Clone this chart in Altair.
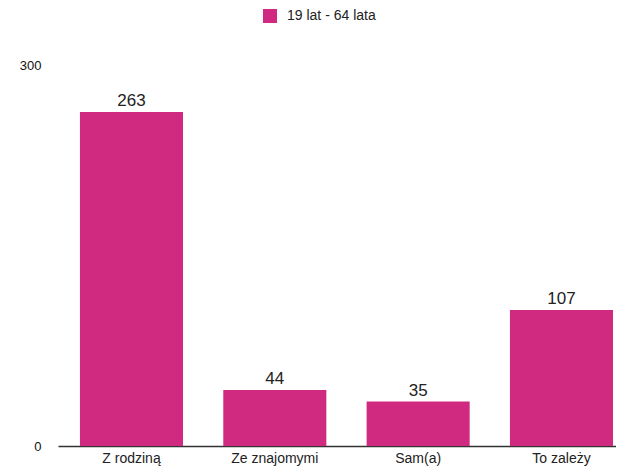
import altair as alt
import pandas as pd

categories = ["Z rodziną", "Ze znajomymi", "Sam(a)", "To zależy"]
values = [263, 44, 35, 107]
series = "19 lat - 64 lata"

df = pd.DataFrame({"kat": categories, "n": values, "s": [series] * len(categories)})

FONT = "Liberation Sans"

x = alt.X("kat:N", sort=categories, title=None,
          scale=alt.Scale(paddingInner=0.281, paddingOuter=0.087, align=0.88),
          axis=alt.Axis(labelAngle=0, ticks=False, domainColor="#333333", domainWidth=1.5,
                        labelFontSize=14, labelColor="#222222", labelPadding=5, labelFont=FONT))
y = alt.Y("n:Q", title=None,
          scale=alt.Scale(domain=[0, 300]),
          axis=alt.Axis(values=[0, 300], grid=False, domain=False, ticks=False,
                        labelFontSize=13, labelColor="#111111", labelPadding=17, labelFont=FONT))

bars = alt.Chart(df).mark_bar(color="#CF2A80").encode(
    x=x, y=y,
    color=alt.Color("s:N", scale=alt.Scale(range=["#CF2A80"]),
                    legend=alt.Legend(title=None, orient="none", legendX=204, legendY=-57,
                                      symbolType="square", symbolSize=196, labelFontSize=14,
                                      labelOffset=9, labelFont=FONT, labelColor="#222222")),
)
text = alt.Chart(df).mark_text(baseline="alphabetic", dy=-6, fontSize=17, font=FONT, color="#222222").encode(
    x=alt.X("kat:N", sort=categories), y="n:Q", text="n:Q")

chart = (bars + text).properties(
    width=558, height=381,
    autosize=alt.AutoSizeParams(type="none"),
    padding={"left": 50, "top": 57, "right": 0, "bottom": 20},
).configure(background="white").configure_view(stroke=None)

chart.save("out.html", embed_options={"renderer": "svg", "actions": False})
